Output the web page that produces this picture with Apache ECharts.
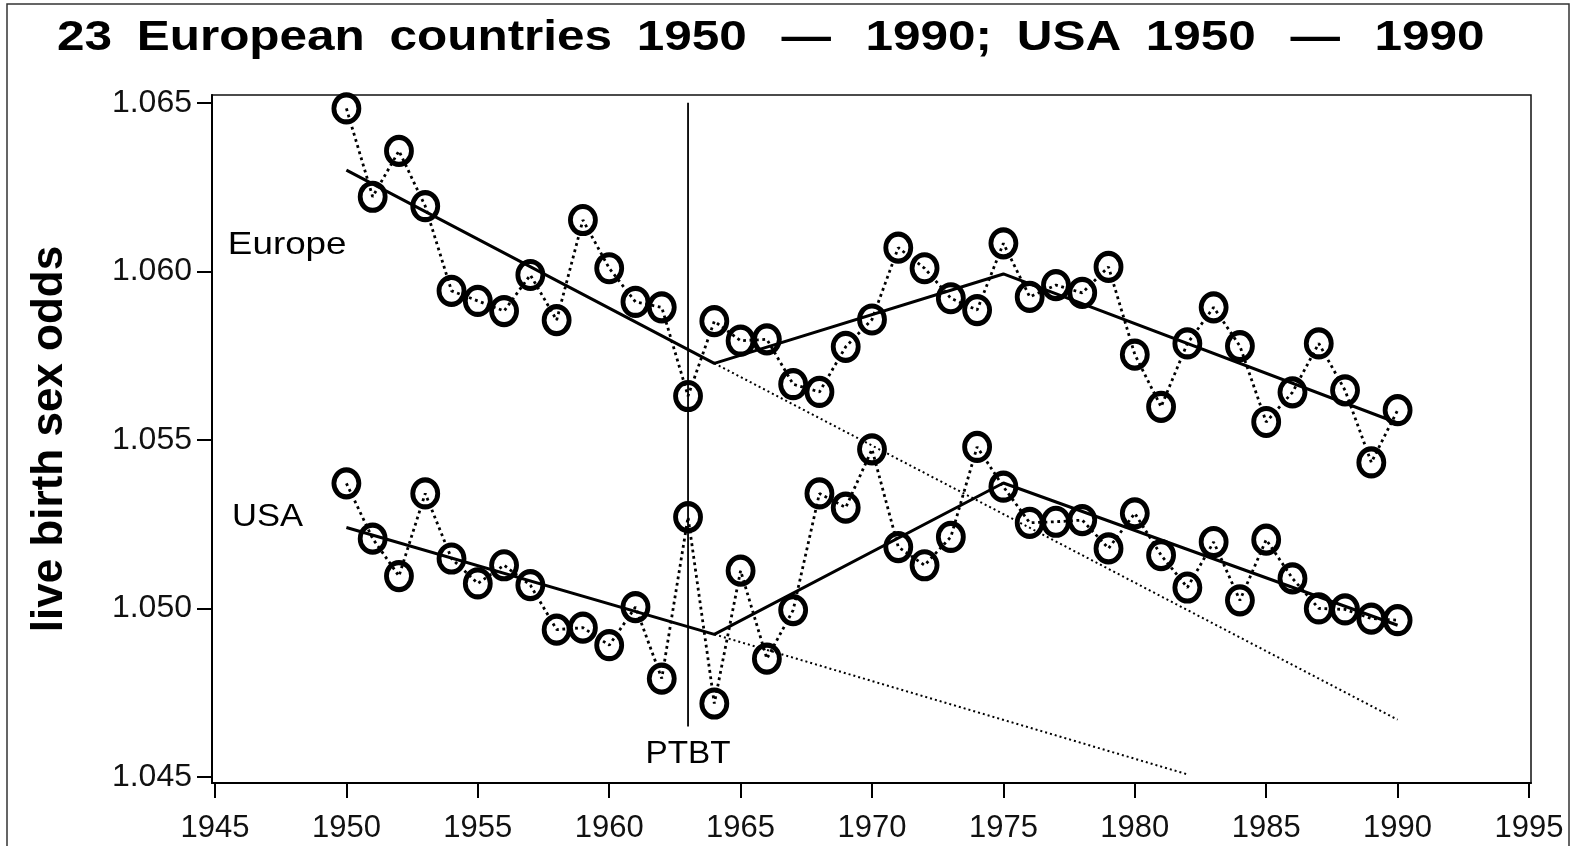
<!DOCTYPE html>
<html>
<head>
<meta charset="utf-8">
<title>Live birth sex odds, Europe and USA 1950-1990</title>
<script src="https://cdn.jsdelivr.net/npm/echarts@6/dist/echarts.min.js"></script>
<style>
  html, body { margin: 0; padding: 0; background: #fff; }
  #chart { width: 1573px; height: 846px; }
</style>
</head>
<body>
<div id="chart"></div>
<script>
// Annual live birth sex odds (male/female), 1950-1990
const years = [1950, 1951, 1952, 1953, 1954, 1955, 1956, 1957, 1958, 1959,
  1960, 1961, 1962, 1963, 1964, 1965, 1966, 1967, 1968, 1969,
  1970, 1971, 1972, 1973, 1974, 1975, 1976, 1977, 1978, 1979,
  1980, 1981, 1982, 1983, 1984, 1985, 1986, 1987, 1988, 1989, 1990];

const europeOdds = [1.06483, 1.06221, 1.06357, 1.06193, 1.05942, 1.05912, 1.05882, 1.05989, 1.05855, 1.06152,
  1.06009, 1.05909, 1.05893, 1.05630, 1.05852, 1.05794, 1.05798, 1.05665, 1.05642, 1.05776,
  1.05857, 1.06070, 1.06009, 1.05920, 1.05885, 1.06083, 1.05924, 1.05959, 1.05936, 1.06013,
  1.05753, 1.05598, 1.05786, 1.05893, 1.05778, 1.05553, 1.05641, 1.05786, 1.05647, 1.05433, 1.05588];

const usaOdds = [1.05371, 1.05207, 1.05096, 1.05341, 1.05148, 1.05074, 1.05128, 1.05069, 1.04937, 1.04943,
  1.04891, 1.05004, 1.04792, 1.05271, 1.04718, 1.05112, 1.04851, 1.04995, 1.05341, 1.05299,
  1.05472, 1.05182, 1.05128, 1.05212, 1.05479, 1.05361, 1.05254, 1.05257, 1.05262, 1.05178,
  1.05282, 1.05158, 1.05062, 1.05197, 1.05024, 1.05204, 1.05089, 1.05000, 1.04997, 1.04970, 1.04965];

// Piecewise linear trends (knots) and the pre-1964 trend carried forward
const europeTrend = [[1950, 1.06300], [1964, 1.05727], [1975, 1.05992], [1990, 1.05550]];
const europeProjection = [[1964, 1.05727], [1990, 1.04670]];
const usaTrend = [[1950, 1.05240], [1964, 1.04923], [1975, 1.05372], [1990, 1.04950]];
const usaProjection = [[1964, 1.04923], [1982, 1.04508]];

// Partial Test Ban Treaty marker
const ptbtYear = 1963;
const ptbtSpan = [1.0650, 1.0465];

// Axis ticks
const xTicks = [1945, 1950, 1955, 1960, 1965, 1970, 1975, 1980, 1985, 1990, 1995];
const yTicks = [1.045, 1.050, 1.055, 1.060, 1.065];

// Text annotations: [label, year, odds]
const annotations = [
  ['Europe', 1945.49, 1.06078],
  ['USA', 1945.65, 1.05272],
  ['PTBT', 1963, 1.04569]
];

// Word gaps use en spaces; the dashes get an extra thin space on each side
const EN = '\u2002', THIN = '\u2009';
const titleWords = ['23', 'European', 'countries', '1950', '\u2014', '1990;', 'USA', '1950', '\u2014', '1990'];
const titleText = titleWords.reduce((acc, w, i) => {
  if (i === 0) return w;
  const prev = titleWords[i - 1];
  const wide = w === '\u2014' || prev === '\u2014';
  return acc + (wide ? EN + THIN : EN) + w;
}, '');

const pair = (xs, ys) => xs.map((x, i) => [x, ys[i]]);

const chart = echarts.init(document.getElementById('chart'), null, { renderer: 'canvas' });

const observedSeries = (name, values) => ({
  name: name,
  type: 'line',
  data: pair(years, values),
  symbol: 'circle',
  symbolSize: [25, 27],
  itemStyle: { color: 'rgba(0,0,0,0)', borderColor: '#000', borderWidth: 5 },
  lineStyle: { color: '#000', width: 2.8, type: [2.8, 3.6] },
  silent: true,
  z: 3
});

const trendLine = (name, data) => ({
  name: name,
  type: 'line',
  data: data,
  symbol: 'none',
  lineStyle: { color: '#000', width: 3, type: 'solid' },
  silent: true,
  z: 4
});

const projectionLine = (name, data) => ({
  name: name,
  type: 'line',
  data: data,
  symbol: 'none',
  lineStyle: { color: '#000', width: 2, type: [2, 3] },
  silent: true,
  z: 2
});

const tickFont = 'Liberation Sans, Arial, sans-serif';

chart.setOption({
  backgroundColor: '#fff',
  animation: false,
  grid: {
    left: 212, right: 42, top: 95, bottom: 63,
    show: true, borderColor: '#111', borderWidth: 1.5, backgroundColor: 'transparent'
  },
  xAxis: {
    type: 'value',
    min: 1944.886,
    max: 1995.076,
    splitLine: { show: false },
    axisLine: { show: true, lineStyle: { color: '#000', width: 2 } },
    axisTick: { show: true, inside: false, length: 15, customValues: xTicks, lineStyle: { color: '#000', width: 2 } },
    axisLabel: {
      customValues: xTicks, margin: 30,
      formatter: v => String(v),
      color: '#111', fontFamily: tickFont, fontSize: 31
    }
  },
  yAxis: {
    type: 'value',
    min: 1.044822,
    max: 1.065228,
    name: 'live birth sex odds',
    nameLocation: 'middle',
    nameGap: 140,
    nameTextStyle: {
      color: '#000', fontFamily: tickFont, fontSize: 44, fontWeight: 'bold'
    },
    splitLine: { show: false },
    axisLine: { show: true, lineStyle: { color: '#000', width: 2 } },
    axisTick: { show: true, inside: false, length: 15, customValues: yTicks, lineStyle: { color: '#000', width: 2 } },
    axisLabel: {
      customValues: yTicks, margin: 20,
      formatter: v => v.toFixed(3),
      color: '#111', fontFamily: tickFont, fontSize: 32
    }
  },
  series: [
    observedSeries('Europe', europeOdds),
    observedSeries('USA', usaOdds),
    trendLine('Europe trend', europeTrend),
    trendLine('USA trend', usaTrend),
    projectionLine('Europe projected', europeProjection),
    projectionLine('USA projected', usaProjection),
    {
      name: 'PTBT',
      type: 'line',
      data: ptbtSpan.map(v => [ptbtYear, v]),
      symbol: 'none',
      lineStyle: { color: '#000', width: 1.8 },
      silent: true,
      z: 1
    }
  ]
});

// Title, frame and text annotations placed from data coordinates
const labelScale = { Europe: 1.15, USA: 1.08, PTBT: 1.04 };
const graphics = [
  {
    type: 'rect',
    shape: { x: 7, y: 4, width: 1562, height: 860 },
    style: { fill: 'none', stroke: '#333', lineWidth: 1.5 },
    silent: true
  },
  {
    type: 'text',
    x: 57, y: 38,
    scaleX: 1.15,
    style: {
      text: titleText,
      x: 0, y: 0,
      fill: '#000',
      font: 'bold 43px "Liberation Sans", Arial, sans-serif',
      textAlign: 'left',
      textVerticalAlign: 'middle'
    },
    silent: true
  }
];
annotations.forEach(([label, yr, val]) => {
  const p = chart.convertToPixel({ gridIndex: 0 }, [yr, val]);
  const centred = label === 'PTBT';
  graphics.push({
    type: 'text',
    x: p[0], y: p[1],
    scaleX: labelScale[label],
    style: {
      text: label,
      x: 0, y: 0,
      fill: '#000',
      font: '32px "Liberation Sans", Arial, sans-serif',
      textAlign: centred ? 'center' : 'left',
      textVerticalAlign: 'middle'
    },
    silent: true
  });
});
chart.setOption({ graphic: graphics });
</script>
</body>
</html>
